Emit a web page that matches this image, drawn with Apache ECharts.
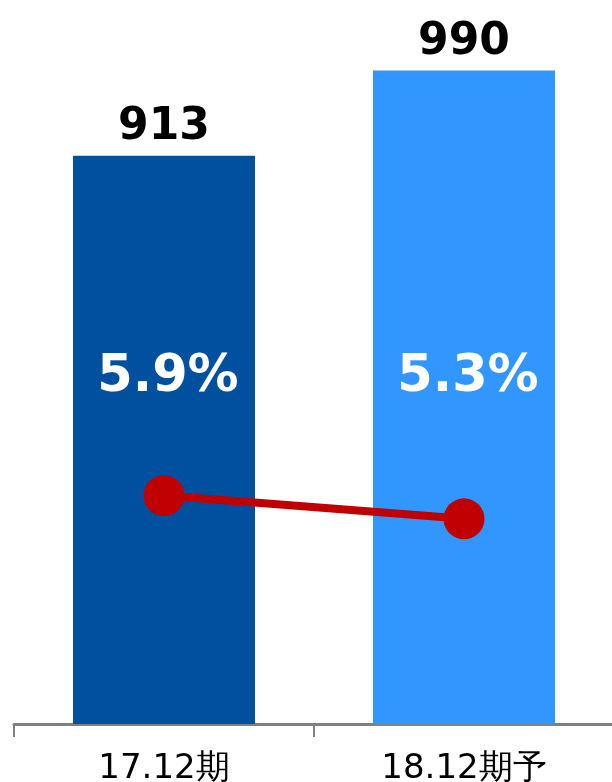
<!DOCTYPE html>
<html><head><meta charset="utf-8">
<script src="https://cdn.jsdelivr.net/npm/echarts@6/dist/echarts.min.js"></script>
<style>html,body{margin:0;padding:0;background:#fff}#c{width:612px;height:782px}</style>
</head><body><div id="c"></div>
<script>
const categories = ['17.12期', '18.12期予'];
const salesValues = [913, 990];
const marginValues = [5.9, 5.3];
const marginLabels = ['5.9%', '5.3%'];
const barColors = ['#0050A0', '#3296FF'];

const chart = echarts.init(document.getElementById('c'));
chart.setOption({
  animation: false,
  grid: { left: 14, right: -2, top: 4, bottom: 58, outerBoundsMode: 'none', containLabel: false },
  xAxis: {
    type: 'category', data: categories, boundaryGap: true,
    axisLine: { lineStyle: { color: '#808080', width: 3 } },
    axisTick: { show: true, length: 13, lineStyle: { color: '#808080', width: 2 } },
    axisLabel: { color: '#000', fontSize: 34, fontFamily: 'DejaVu Sans', margin: 28 }
  },
  yAxis: [
    { type: 'value', min: 400, max: 1050, show: false, splitLine: { show: false } },
    { type: 'value', min: 0, max: 18.6, show: false, splitLine: { show: false } }
  ],
  series: [
    {
      type: 'bar', yAxisIndex: 0, barWidth: 182,
      data: salesValues.map((v, i) => ({ value: v, itemStyle: { color: barColors[i] } })),
      label: { show: true, position: 'top', distance: 6, color: '#000', fontSize: 44, fontWeight: 'bold', fontFamily: 'DejaVu Sans' },
      z: 2
    },
    {
      type: 'line', yAxisIndex: 1, data: marginValues,
      symbol: 'circle', symbolSize: 41,
      lineStyle: { color: '#C00000', width: 8 },
      itemStyle: { color: '#C00000' },
      label: { show: true, formatter: p => marginLabels[p.dataIndex], color: '#fff', fontSize: 51, fontWeight: 'bold', fontFamily: 'DejaVu Sans' },
      labelLayout: { y: 378, dx: 4, verticalAlign: 'middle', align: 'center' },
      z: 3
    }
  ]
});
</script></body></html>
